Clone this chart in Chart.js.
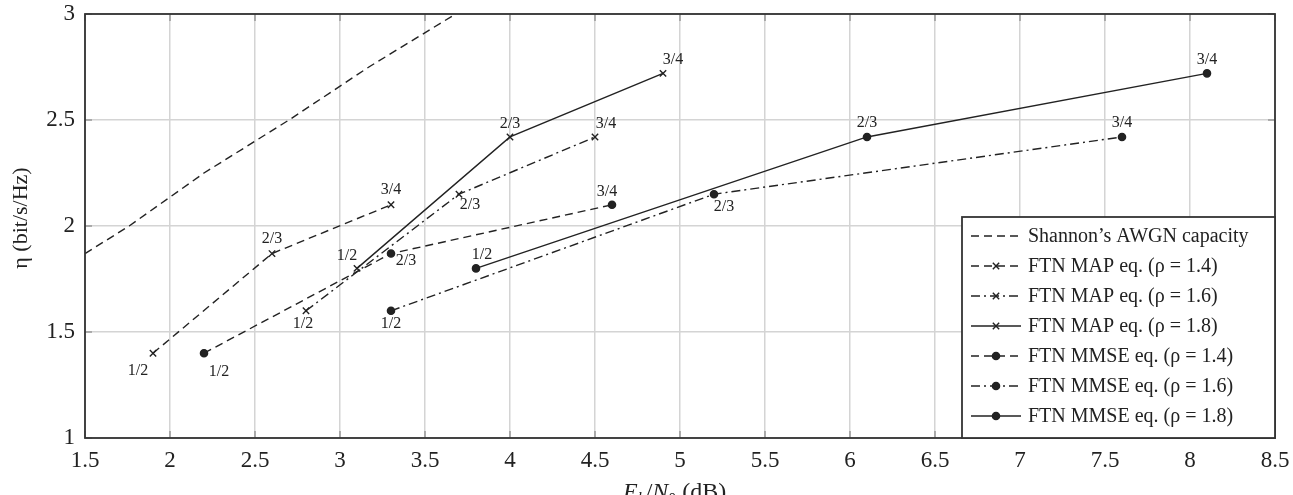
<!DOCTYPE html>
<html>
<head>
<meta charset="utf-8">
<script src="https://cdn.jsdelivr.net/npm/chart.js@4/dist/chart.umd.min.js"></script>
<style>
  html, body { margin: 0; padding: 0; background: #fff; }
  #wrap { width: 1293px; height: 495px; position: relative; }
</style>
</head>
<body>
<div id="wrap"><canvas id="chart"></canvas></div>
<script>
// values
const rateLabels = ['1/2', '2/3', '3/4'];
const etaRho14 = [1.4, 1.87, 2.1];
const etaRho16 = [1.6, 2.15, 2.42];
const etaRho18 = [1.8, 2.42, 2.72];
const ebn0MapRho14 = [1.9, 2.6, 3.3];
const ebn0MapRho16 = [2.8, 3.7, 4.5];
const ebn0MapRho18 = [3.1, 4.0, 4.9];
const ebn0MmseRho14 = [2.2, 3.3, 4.6];
const ebn0MmseRho16 = [3.3, 5.2, 7.6];
const ebn0MmseRho18 = [3.8, 6.1, 8.1];
const shannonEbN0 = [1.5, 1.76, 2.2, 2.7, 3.17, 3.68];
const shannonEta = [1.87, 2.0, 2.25, 2.5, 2.75, 3.0];
const xTicks = [1.5, 2, 2.5, 3, 3.5, 4, 4.5, 5, 5.5, 6, 6.5, 7, 7.5, 8, 8.5];
const yTicks = [1, 1.5, 2, 2.5, 3];

const ink = '#222';
const serif = 'Liberation Serif';
const dashed = [8, 5];
const dashDot = [9, 4, 2, 4];

const pts = (xs, ys) => xs.map((x, i) => ({ x: x, y: ys[i] }));

// label offsets (px) for the code rate next to every point
const labelOffsets = {
  'FTN MAP eq. (ρ = 1.4)': [[-15, 18], [0, -15], [0, -15]],
  'FTN MAP eq. (ρ = 1.6)': [[-3, 13], [11, 11], [11, -13]],
  'FTN MAP eq. (ρ = 1.8)': [[-10, -13], [0, -13], [10, -14]],
  'FTN MMSE eq. (ρ = 1.4)': [[15, 19], [15, 7], [-5, -13]],
  'FTN MMSE eq. (ρ = 1.6)': [[0, 13], [10, 13], [0, -14]],
  'FTN MMSE eq. (ρ = 1.8)': [[6, -14], [0, -14], [0, -14]]
};

function series(label, xs, ys, dash, style) {
  return {
    label: label,
    data: pts(xs, ys),
    showLine: true,
    borderColor: ink,
    backgroundColor: ink,
    borderWidth: 1.4,
    borderDash: dash,
    pointStyle: style,
    pointRadius: style === 'circle' ? 3.6 : 4.5,
    pointBorderWidth: 1.4,
    pointHoverRadius: 4,
    rates: rateLabels
  };
}

const datasets = [
  {
    label: 'Shannon’s AWGN capacity',
    data: pts(shannonEbN0, shannonEta),
    showLine: true,
    borderColor: ink,
    borderWidth: 1.4,
    borderDash: dashed,
    pointRadius: 0
  },
  series('FTN MAP eq. (ρ = 1.4)', ebn0MapRho14, etaRho14, dashed, 'crossRot'),
  series('FTN MAP eq. (ρ = 1.6)', ebn0MapRho16, etaRho16, dashDot, 'crossRot'),
  series('FTN MAP eq. (ρ = 1.8)', ebn0MapRho18, etaRho18, [], 'crossRot'),
  series('FTN MMSE eq. (ρ = 1.4)', ebn0MmseRho14, etaRho14, dashed, 'circle'),
  series('FTN MMSE eq. (ρ = 1.6)', ebn0MmseRho16, etaRho16, dashDot, 'circle'),
  series('FTN MMSE eq. (ρ = 1.8)', ebn0MmseRho18, etaRho18, [], 'circle')
];

// frame + small inner ticks like pgfplots
const framePlugin = {
  id: 'frame',
  afterDatasetsDraw(chart) {
    const { ctx, chartArea: a, scales } = chart;
    ctx.save();
    ctx.strokeStyle = '#999';
    ctx.lineWidth = 1.5;
    xTicks.forEach(v => {
      const x = scales.x.getPixelForValue(v);
      ctx.beginPath();
      ctx.moveTo(x, a.top); ctx.lineTo(x, a.top + 7);
      ctx.moveTo(x, a.bottom); ctx.lineTo(x, a.bottom - 7);
      ctx.stroke();
    });
    yTicks.forEach(v => {
      const y = scales.y.getPixelForValue(v);
      ctx.beginPath();
      ctx.moveTo(a.left, y); ctx.lineTo(a.left + 7, y);
      ctx.moveTo(a.right, y); ctx.lineTo(a.right - 7, y);
      ctx.stroke();
    });
    ctx.strokeStyle = '#333';
    ctx.lineWidth = 1.8;
    ctx.strokeRect(a.left, a.top, a.right - a.left, a.bottom - a.top);
    ctx.restore();
  }
};

// code rate labels next to the points
const rateLabelPlugin = {
  id: 'rateLabels',
  afterDatasetsDraw(chart) {
    const ctx = chart.ctx;
    ctx.save();
    ctx.font = '16px "' + serif + '"';
    ctx.fillStyle = ink;
    ctx.textAlign = 'center';
    ctx.textBaseline = 'middle';
    chart.data.datasets.forEach((ds, i) => {
      if (!ds.rates) return;
      const offs = labelOffsets[ds.label];
      chart.getDatasetMeta(i).data.forEach((el, j) => {
        ctx.fillText(ds.rates[j], el.x + offs[j][0], el.y + offs[j][1]);
      });
    });
    ctx.restore();
  }
};

// legend box in the lower right corner + axis titles
const legendPlugin = {
  id: 'boxLegend',
  afterDraw(chart) {
    const { ctx, chartArea: a } = chart;
    const h = Chart.helpers;
    ctx.save();
    const bx = 962, by = 217, bw = a.right - bx, bh = a.bottom - by;
    ctx.fillStyle = '#fff';
    ctx.fillRect(bx, by, bw, bh);
    ctx.strokeStyle = '#333';
    ctx.lineWidth = 1.8;
    ctx.strokeRect(bx, by, bw, bh);
    ctx.font = '20px "' + serif + '"';
    ctx.textBaseline = 'middle';
    chart.data.datasets.forEach((ds, i) => {
      const y = by + 19 + i * 30;
      ctx.strokeStyle = ink;
      ctx.fillStyle = ink;
      ctx.lineWidth = 1.4;
      ctx.setLineDash(ds.borderDash || []);
      ctx.beginPath();
      ctx.moveTo(971, y); ctx.lineTo(1021, y);
      ctx.stroke();
      ctx.setLineDash([]);
      if (ds.pointRadius) {
        ctx.lineWidth = ds.pointBorderWidth;
        h.drawPoint(ctx, { pointStyle: ds.pointStyle, radius: ds.pointRadius, borderWidth: ds.pointBorderWidth, rotation: 0 }, 996, y);
      }
      ctx.fillText(ds.label, 1028, y + 1);
    });

    // x title: E_b/N_0 (dB)
    let x = 623;
    const base = 499;
    const part = (txt, font, dy) => {
      ctx.font = font;
      ctx.fillText(txt, x, base + dy);
      x += ctx.measureText(txt).width;
    };
    ctx.textBaseline = 'alphabetic';
    ctx.textAlign = 'left';
    part('E', 'italic 24px "' + serif + '"', 0);
    part('b', 'italic 16px "' + serif + '"', 5);
    part('/', '24px "' + serif + '"', 0);
    part('N', 'italic 24px "' + serif + '"', 0);
    part('0', '16px "' + serif + '"', 5);
    part(' (dB)', '24px "' + serif + '"', 0);

    // y title
    ctx.translate(27, 218);
    ctx.rotate(-Math.PI / 2);
    ctx.textAlign = 'center';
    ctx.font = '22px "' + serif + '"';
    ctx.fillText('η (bit/s/Hz)', 0, 0);
    ctx.restore();
  }
};

new Chart(document.getElementById('chart'), {
  type: 'scatter',
  data: { datasets: datasets },
  options: {
    responsive: true,
    maintainAspectRatio: false,
    animation: false,
    layout: { padding: { top: 14, right: 18, left: 0, bottom: 0 } },
    plugins: {
      legend: { display: false },
      tooltip: { enabled: false }
    },
    scales: {
      x: {
        type: 'linear',
        min: 1.5,
        max: 8.5,
        afterBuildTicks: s => { s.ticks = xTicks.map(v => ({ value: v })); },
        afterFit: s => { s.height = 57; s.paddingLeft = 0; s.paddingRight = 0; },
        grid: { color: '#d4d4d4', lineWidth: 1.5, drawTicks: false },
        border: { display: false },
        ticks: { color: ink, padding: 9, font: { family: serif, size: 23 }, maxRotation: 0, autoSkip: false, callback: v => String(v) }
      },
      y: {
        type: 'linear',
        min: 1,
        max: 3,
        afterBuildTicks: s => { s.ticks = yTicks.map(v => ({ value: v })); },
        afterFit: s => { s.width = 85; s.paddingTop = 0; s.paddingBottom = 0; },
        grid: { color: '#d4d4d4', lineWidth: 1.5, drawTicks: false },
        border: { display: false },
        ticks: { color: ink, padding: 10, font: { family: serif, size: 23 }, autoSkip: false, callback: v => String(v) }
      }
    }
  },
  plugins: [framePlugin, rateLabelPlugin, legendPlugin]
});
</script>
</body>
</html>
